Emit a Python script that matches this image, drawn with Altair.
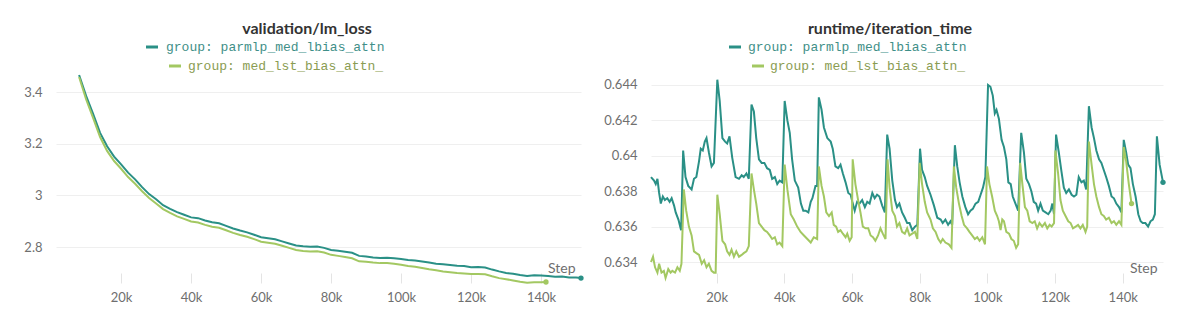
import altair as alt
import pandas as pd

SERIES = ["group: parmlp_med_lbias_attn", "group: med_lst_bias_attn_"]
LINE_COLORS = ["#2a9086", "#a3c862"]
TEXT_COLORS = ["#3f8f88", "#8a9c52"]

STEP_TICKS = [20000, 40000, 60000, 80000, 100000, 120000, 140000]
LOSS_TICKS = [2.8, 3.0, 3.2, 3.4]
ITER_TICKS = [0.634, 0.636, 0.638, 0.640, 0.642, 0.644]

# validation/lm_loss  (step in thousands, value)
loss_a = [(8, 3.466), (10, 3.385), (12, 3.315), (14, 3.242), (16, 3.19), (18, 3.15), (20, 3.12),
          (22, 3.088), (24, 3.062), (26, 3.032), (28, 3.005), (30, 2.985), (32, 2.962), (34, 2.948),
          (36, 2.935), (38, 2.925), (40, 2.915), (42, 2.912), (44, 2.903), (46, 2.896), (48, 2.892),
          (50, 2.882), (52, 2.872), (54, 2.864), (56, 2.857), (58, 2.848), (60, 2.838), (62, 2.834),
          (64, 2.83), (66, 2.822), (68, 2.814), (70, 2.806), (72, 2.803), (74, 2.801), (76, 2.802),
          (78, 2.797), (80, 2.789), (82, 2.786), (84, 2.782), (86, 2.778), (88, 2.766), (90, 2.764),
          (92, 2.760), (94, 2.758), (96, 2.759), (98, 2.757), (100, 2.754), (102, 2.750), (104, 2.748),
          (106, 2.744), (108, 2.740), (110, 2.736), (112, 2.734), (114, 2.731), (116, 2.728),
          (118, 2.727), (120, 2.722), (122, 2.723), (124, 2.721), (126, 2.713), (128, 2.706),
          (130, 2.700), (132, 2.697), (134, 2.692), (136, 2.688), (138, 2.691), (140, 2.690),
          (142, 2.688), (144, 2.685), (146, 2.686), (148, 2.682), (150, 2.682), (151.4, 2.680)]
loss_b = [(8, 3.458), (10, 3.372), (12, 3.300), (14, 3.226), (16, 3.172), (18, 3.133), (20, 3.103),
          (22, 3.071), (24, 3.045), (26, 3.016), (28, 2.99), (30, 2.969), (32, 2.947), (34, 2.932),
          (36, 2.919), (38, 2.909), (40, 2.899), (42, 2.895), (44, 2.886), (46, 2.879), (48, 2.875),
          (50, 2.865), (52, 2.855), (54, 2.847), (56, 2.84), (58, 2.831), (60, 2.821), (62, 2.817),
          (64, 2.813), (66, 2.805), (68, 2.797), (70, 2.789), (72, 2.785), (74, 2.783), (76, 2.784),
          (78, 2.779), (80, 2.770), (82, 2.766), (84, 2.762), (86, 2.757), (88, 2.745), (90, 2.743),
          (92, 2.740), (94, 2.738), (96, 2.738), (98, 2.736), (100, 2.732), (102, 2.727), (104, 2.724),
          (106, 2.719), (108, 2.714), (110, 2.710), (112, 2.706), (114, 2.703), (116, 2.700),
          (118, 2.698), (120, 2.696), (122, 2.696), (124, 2.695), (126, 2.687), (128, 2.680),
          (130, 2.676), (132, 2.671), (134, 2.666), (136, 2.662), (138, 2.664), (140, 2.664),
          (141.4, 2.665)]

# runtime/iteration_time  (step in thousands, value)
iter_a = [(0.6, 0.6388), (1.5, 0.6386), (2.0, 0.6384), (2.5, 0.6387), (3.0, 0.6379), (3.5, 0.6373),
          (4.1, 0.6377), (4.7, 0.6375), (5.4, 0.6376), (6.1, 0.6374), (6.7, 0.6376), (7.4, 0.6372),
          (7.9, 0.6368), (8.7, 0.6364), (9.5, 0.6358),
          (10.1, 0.6403), (10.8, 0.6388), (11.6, 0.6383), (12.6, 0.6381), (13.3, 0.6387), (14.0, 0.6388),
          (14.8, 0.6397), (15.3, 0.6404), (15.9, 0.6403), (16.5, 0.6408), (17.0, 0.6410), (17.7, 0.6402),
          (18.5, 0.6394), (19.2, 0.6396),
          (20.2, 0.6443), (20.9, 0.6431), (21.7, 0.6410), (22.5, 0.6408), (23.1, 0.6407), (23.8, 0.6411),
          (24.6, 0.6399), (25.6, 0.6388), (26.6, 0.6387), (27.4, 0.6389), (28.0, 0.6388), (28.8, 0.6390),
          (29.5, 0.6387),
          (30.3, 0.6429), (31.0, 0.6425), (31.7, 0.6410), (32.5, 0.6398), (33.3, 0.6396), (34.1, 0.6396),
          (34.9, 0.6393), (35.7, 0.6392), (36.4, 0.6387), (37.2, 0.6388), (37.9, 0.6384), (38.6, 0.6386),
          (39.4, 0.6385),
          (40.1, 0.6431), (40.9, 0.6420), (41.6, 0.6413), (42.3, 0.6398), (43.1, 0.6386), (44.1, 0.6382),
          (44.9, 0.6373), (45.6, 0.6369), (46.3, 0.6369), (47.1, 0.6368), (47.8, 0.6374), (48.3, 0.6376),
          (49.2, 0.6383), (49.7, 0.6383),
          (50.2, 0.6433), (51.0, 0.6426), (51.7, 0.6416), (52.7, 0.6410), (53.7, 0.6408), (54.3, 0.6404),
          (55.1, 0.6394), (55.9, 0.6393), (56.6, 0.6395), (57.3, 0.6390), (58.1, 0.6385), (58.9, 0.6379),
          (59.6, 0.6378), (60.1, 0.6374), (60.8, 0.6369), (61.5, 0.6374), (62.2, 0.6373), (63.0, 0.6375),
          (63.8, 0.6371), (64.5, 0.6374), (65.2, 0.6373), (66.0, 0.6379), (66.7, 0.6376), (67.4, 0.6378),
          (68.1, 0.6377), (68.9, 0.6372), (69.7, 0.6368),
          (70.4, 0.6412), (71.1, 0.6404), (71.9, 0.6386), (72.7, 0.6375), (73.3, 0.6371), (74.0, 0.6373),
          (74.8, 0.6368), (75.6, 0.6365), (76.3, 0.6362), (77.0, 0.6362), (77.8, 0.6358), (78.6, 0.6360),
          (79.3, 0.6361),
          (80.1, 0.6404), (80.7, 0.6392), (81.5, 0.6388), (82.2, 0.6383), (83.2, 0.6378), (84.2, 0.6372),
          (85.2, 0.6365), (86.2, 0.6364), (86.8, 0.6362), (87.6, 0.6364), (88.4, 0.6361), (89.1, 0.6363),
          (89.6, 0.6361),
          (90.4, 0.6406), (91.1, 0.6394), (91.8, 0.6385), (92.6, 0.6377), (93.5, 0.6371), (94.3, 0.6367),
          (95.0, 0.6369), (95.7, 0.6370), (96.5, 0.6373), (97.3, 0.6374), (98.0, 0.6378), (98.7, 0.6382),
          (99.4, 0.6388),
          (100.2, 0.6440), (100.9, 0.6439), (101.6, 0.6434), (102.2, 0.6424), (102.7, 0.6426),
          (103.4, 0.6421), (104.2, 0.6409), (104.9, 0.6405), (105.6, 0.6398), (106.2, 0.6385),
          (106.9, 0.6384), (107.5, 0.6377), (108.3, 0.6373), (109.1, 0.6369),
          (110.0, 0.6413), (110.8, 0.6402), (111.5, 0.6387), (112.3, 0.6384), (113.0, 0.6380),
          (113.7, 0.6374), (114.4, 0.6373), (115.0, 0.6369), (115.7, 0.6373), (116.4, 0.6369),
          (117.2, 0.6368), (118.0, 0.6367), (118.7, 0.6369), (119.2, 0.6373), (119.7, 0.6367),
          (120.3, 0.6412), (121.1, 0.6402), (121.9, 0.6391), (122.6, 0.6382), (123.3, 0.6379),
          (124.1, 0.6381), (124.9, 0.6378), (125.6, 0.6377), (126.3, 0.6378), (127.0, 0.6388),
          (127.8, 0.6385), (128.5, 0.6386), (129.2, 0.6381),
          (130.0, 0.6428), (130.8, 0.6416), (131.5, 0.6410), (132.2, 0.6403), (133.0, 0.6398),
          (133.7, 0.6396), (134.4, 0.6392), (135.1, 0.6388), (135.9, 0.6383), (136.7, 0.6377),
          (137.4, 0.6376), (138.1, 0.6373), (138.9, 0.6371), (139.6, 0.6368),
          (140.3, 0.6409), (141.0, 0.6402), (141.6, 0.6395), (142.3, 0.6393), (143.0, 0.6384),
          (143.8, 0.6377), (144.6, 0.6367), (145.3, 0.6363), (145.9, 0.6362), (146.7, 0.6362),
          (147.5, 0.6360), (148.2, 0.6363), (148.9, 0.6364), (149.5, 0.6367),
          (150.1, 0.6411), (150.9, 0.6395), (151.9, 0.6385)]
iter_b = [(0.6, 0.6340), (1.2, 0.6343), (1.8, 0.6337), (2.5, 0.6334), (3.0, 0.6339), (3.7, 0.6334),
          (4.4, 0.6335), (4.9, 0.6331), (5.7, 0.6336), (6.4, 0.6334), (6.9, 0.6335), (7.7, 0.6334),
          (8.4, 0.6337), (9.1, 0.6335), (9.6, 0.6339),
          (10.3, 0.6381), (11.0, 0.6369), (11.8, 0.6360), (12.6, 0.6355), (13.3, 0.6346), (14.0, 0.6345),
          (14.8, 0.6344), (15.6, 0.6339), (16.3, 0.6341), (17.0, 0.6337), (17.7, 0.6339), (18.5, 0.6335),
          (19.2, 0.6334), (19.7, 0.6334),
          (20.2, 0.6378), (20.9, 0.6367), (21.7, 0.6352), (22.5, 0.6350), (23.1, 0.6346), (23.8, 0.6344),
          (24.4, 0.6347), (25.1, 0.6343), (25.8, 0.6346), (26.6, 0.6343), (27.4, 0.6344), (28.0, 0.6345),
          (28.8, 0.6346), (29.5, 0.6349),
          (30.3, 0.6390), (31.0, 0.6381), (31.7, 0.6373), (32.5, 0.6362), (33.3, 0.6360), (34.1, 0.6358),
          (34.9, 0.6357), (35.7, 0.6355), (36.4, 0.6353), (37.2, 0.6354), (37.9, 0.6350), (38.6, 0.6351),
          (39.4, 0.6349),
          (40.1, 0.6395), (40.9, 0.6381), (41.9, 0.6367), (42.8, 0.6364), (43.8, 0.6360), (44.8, 0.6357),
          (45.8, 0.6355), (46.8, 0.6353), (47.8, 0.6351), (48.7, 0.6354), (49.7, 0.6353),
          (50.2, 0.6394), (51.0, 0.6383), (51.7, 0.6377), (52.4, 0.6368), (53.2, 0.6366), (54.0, 0.6368),
          (54.6, 0.6361), (55.3, 0.6360), (55.9, 0.6357), (56.6, 0.6358), (57.3, 0.6356), (58.1, 0.6354),
          (58.6, 0.6356), (59.3, 0.6352), (59.9, 0.6354),
          (60.2, 0.6398), (61.0, 0.6384), (61.8, 0.6375), (62.5, 0.6368), (63.2, 0.6360), (64.0, 0.6359),
          (64.8, 0.6359), (65.5, 0.6355), (66.2, 0.6354), (66.9, 0.6352), (67.7, 0.6355), (68.4, 0.6359),
          (69.1, 0.6356), (69.9, 0.6353),
          (70.5, 0.6398), (71.1, 0.6382), (71.9, 0.6369), (72.7, 0.6366), (73.3, 0.6360), (74.0, 0.6362),
          (74.8, 0.6357), (75.6, 0.6356), (76.3, 0.6359), (77.0, 0.6355), (77.8, 0.6356), (78.6, 0.6357),
          (79.3, 0.6353),
          (80.0, 0.6396), (80.7, 0.6384), (81.5, 0.6374), (82.2, 0.6368), (83.2, 0.6364), (83.9, 0.6359),
          (84.7, 0.6357), (85.5, 0.6353), (86.2, 0.6351), (86.8, 0.6353), (87.6, 0.6351), (88.6, 0.6350),
          (89.4, 0.6348),
          (90.1, 0.6394), (90.8, 0.6382), (91.6, 0.6373), (92.4, 0.6366), (93.1, 0.6361), (94.0, 0.6359),
          (94.7, 0.6357), (95.5, 0.6355), (96.3, 0.6353), (97.0, 0.6354), (97.7, 0.6352), (98.5, 0.6354),
          (99.3, 0.6350),
          (99.9, 0.6394), (100.6, 0.6384), (101.4, 0.6377), (102.2, 0.6369), (102.9, 0.6366),
          (103.4, 0.6363), (103.9, 0.6358), (104.4, 0.6364), (104.9, 0.6363), (105.6, 0.6357),
          (106.4, 0.6356), (107.1, 0.6353), (107.8, 0.6352), (108.5, 0.6348), (109.1, 0.6350),
          (109.7, 0.6396), (110.4, 0.6383), (111.1, 0.6371), (111.8, 0.6369), (112.5, 0.6363),
          (113.3, 0.6362), (114.0, 0.6363), (114.7, 0.6359), (115.4, 0.6362), (116.2, 0.6360),
          (117.0, 0.6362), (117.7, 0.6359), (118.4, 0.6361), (119.0, 0.6360), (119.7, 0.6362),
          (120.1, 0.6403), (120.9, 0.6390), (121.6, 0.6375), (122.3, 0.6369), (123.1, 0.6366),
          (123.9, 0.6363), (124.6, 0.6362), (125.3, 0.6359), (126.1, 0.6360), (126.8, 0.6361),
          (127.5, 0.6359), (128.2, 0.6361), (129.0, 0.6357), (129.5, 0.6360),
          (130.0, 0.6408), (130.8, 0.6395), (131.5, 0.6384), (132.2, 0.6377), (133.0, 0.6371),
          (133.7, 0.6367), (134.4, 0.6366), (135.1, 0.6364), (135.9, 0.6365), (136.7, 0.6362),
          (137.4, 0.6363), (138.1, 0.6361), (138.9, 0.6363), (139.6, 0.6361),
          (140.3, 0.6405), (141.0, 0.6397), (141.8, 0.6384), (142.6, 0.6373)]

FONT = "Lato"
MONO = "Liberation Mono"
GRAY = "#6f6f6f"
H = 211


def frame(pairs_list):
    rows = []
    for name, pairs in zip(SERIES, pairs_list):
        for s, v in pairs:
            rows.append({"series": name, "step": s * 1000, "value": v})
    return pd.DataFrame(rows)


def ends(pairs_list):
    rows = []
    for name, pairs in zip(SERIES, pairs_list):
        s, v = pairs[-1]
        rows.append({"series": name, "step": s * 1000, "value": v})
    return pd.DataFrame(rows)


def panel(pairs_list, title, x_domain, y_domain, y_ticks, width, title_dx, legend_pos):
    color = alt.Color("series:N", scale=alt.Scale(domain=SERIES, range=LINE_COLORS), legend=None)
    x = alt.X("step:Q", scale=alt.Scale(domain=x_domain, nice=False, zero=False),
              axis=alt.Axis(values=STEP_TICKS, labelExpr="datum.value / 1000 + 'k'", grid=False,
                            domain=False, tickSize=10, tickColor="#e4e4e4", tickWidth=1, offset=-10,
                            labelPadding=8, labelFont=FONT, labelFontSize=13, labelColor=GRAY,
                            labelFlush=False, title="Step", titleFont=FONT, titleFontSize=14,
                            titleFontWeight="normal", titleColor=GRAY, titleAlign="right",
                            titleBaseline="middle", titleX=width - 6, titleY=-5))
    y = alt.Y("value:Q", scale=alt.Scale(domain=y_domain, nice=False, zero=False),
              axis=alt.Axis(values=y_ticks, format="~g", grid=True, gridColor="#efefef", gridWidth=1,
                            domain=False, ticks=False, labelPadding=14, labelFont=FONT,
                            labelFontSize=13, labelColor=GRAY, title=None))
    lines = alt.Chart(frame(pairs_list)).mark_line(strokeWidth=2).encode(x=x, y=y, color=color)
    dots = alt.Chart(ends(pairs_list)).mark_circle(size=28, opacity=1).encode(
        x="step:Q", y="value:Q", color=color)
    layers = [lines, dots]
    for i, name in enumerate(SERIES):
        mx, tx, yy = legend_pos[i]
        d = alt.Data(values=[{"label": name}])
        layers.append(alt.Chart(d).mark_rule(strokeWidth=3, color=LINE_COLORS[i]).encode(
            x=alt.value(mx), x2=alt.value(mx + 12), y=alt.value(yy)))
        layers.append(alt.Chart(d).mark_text(align="left", baseline="middle", font=MONO,
                                             fontSize=13, color=TEXT_COLORS[i]).encode(
            x=alt.value(tx), y=alt.value(yy), text="label:N"))
    return alt.layer(*layers).properties(
        width=width, height=H,
        title=alt.TitleParams(text=title, font=FONT, fontSize=16, fontWeight="bold", color="#333333",
                              anchor="middle", dx=title_dx, offset=4))


left = panel([loss_a, loss_b], "validation/lm_loss", [1400, 151400], [2.6611, 3.4774], LOSS_TICKS,
             525, -11.5, [(90, 110, -25), (113, 132, -6)])
right = panel([iter_a, iter_b], "runtime/iteration_time", [600, 151900], [0.632814, 0.644734],
              ITER_TICKS, 512, -17, [(78, 97, -25), (101, 119, -6)])

chart = alt.hconcat(left, right, spacing=70, bounds="flush").properties(
    padding={"left": 23, "top": 21, "right": 20, "bottom": 10}
).configure_view(stroke=None)

chart.save("out.html", embed_options={"renderer": "svg", "actions": False})
